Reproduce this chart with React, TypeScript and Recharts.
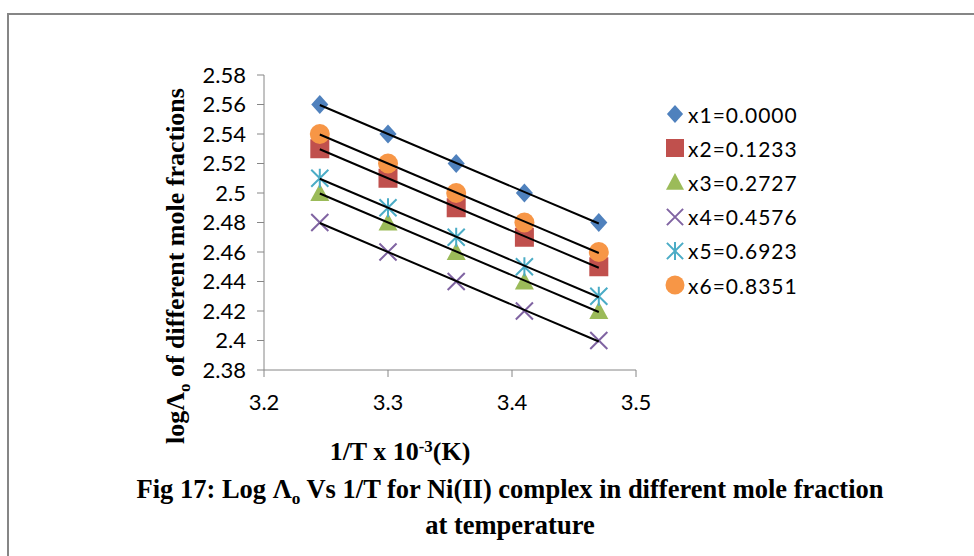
import { ScatterChart, Scatter, XAxis, YAxis } from 'recharts'

// 1/T x 10^-3 for the five temperatures
const invTemp = [3.245, 3.3, 3.355, 3.41, 3.47]

// log of limiting molar conductance per mole fraction
const x1Vals = [2.56, 2.54, 2.52, 2.5, 2.48]
const x2Vals = [2.53, 2.51, 2.49, 2.47, 2.45]
const x3Vals = [2.5, 2.48, 2.46, 2.44, 2.42]
const x4Vals = [2.48, 2.46, 2.44, 2.42, 2.4]
const x5Vals = [2.51, 2.49, 2.47, 2.45, 2.43]
const x6Vals = [2.54, 2.52, 2.5, 2.48, 2.46]

const seriesNames = ['x1=0.0000', 'x2=0.1233', 'x3=0.2727', 'x4=0.4576', 'x5=0.6923', 'x6=0.8351']

const xTicks = [3.2, 3.3, 3.4, 3.5]
const yTicks = [2.38, 2.4, 2.42, 2.44, 2.46, 2.48, 2.5, 2.52, 2.54, 2.56, 2.58]

type Kind = 'diamond' | 'square' | 'triangle' | 'cross' | 'star' | 'circle'

const SERIES: { name: string; values: number[]; kind: Kind; color: string }[] = [
  { name: seriesNames[0], values: x1Vals, kind: 'diamond', color: '#4F81BD' },
  { name: seriesNames[1], values: x2Vals, kind: 'square', color: '#C0504D' },
  { name: seriesNames[2], values: x3Vals, kind: 'triangle', color: '#9BBB59' },
  { name: seriesNames[3], values: x4Vals, kind: 'cross', color: '#8064A2' },
  { name: seriesNames[4], values: x5Vals, kind: 'star', color: '#4BACC6' },
  { name: seriesNames[5], values: x6Vals, kind: 'circle', color: '#F79646' },
]

const toPoints = (values: number[]) => values.map((y, i) => ({ x: invTemp[i], y }))

const AXIS = '#868686'
const TICK_FONT = { fill: '#000', fontSize: 22, fontFamily: 'Lato, sans-serif' }
const SERIF = '"Liberation Serif", "Times New Roman", serif'

interface MarkerProps {
  kind: Kind
  cx: number
  cy: number
  color: string
  r?: number
}

const Marker = ({ kind, cx, cy, color, r = 9.5 }: MarkerProps) => {
  switch (kind) {
    case 'diamond':
      return <polygon points={`${cx},${cy - r} ${cx + r * 0.9},${cy} ${cx},${cy + r} ${cx - r * 0.9},${cy}`} fill={color} />
    case 'square':
      return <rect x={cx - r} y={cy - r} width={r * 2} height={r * 2} fill={color} />
    case 'triangle':
      return <polygon points={`${cx},${cy - r} ${cx + r},${cy + r * 0.85} ${cx - r},${cy + r * 0.85}`} fill={color} />
    case 'cross': {
      const d = r * 0.9
      return (
        <path d={`M${cx - d},${cy - d}L${cx + d},${cy + d}M${cx + d},${cy - d}L${cx - d},${cy + d}`}
          stroke={color} strokeWidth={2} fill="none" />
      )
    }
    case 'star': {
      const d = r * 0.9
      return (
        <path d={`M${cx - d},${cy - d}L${cx + d},${cy + d}M${cx + d},${cy - d}L${cx - d},${cy + d}M${cx},${cy - r}L${cx},${cy + r}`}
          stroke={color} strokeWidth={2} fill="none" />
      )
    }
    default:
      return <circle cx={cx} cy={cy} r={r + 0.5} fill={color} />
  }
}

const fmtY = (v: number) => String(+v.toFixed(2))

const sub = { fontSize: '0.65em', position: 'relative' as const, top: '0.35em' }
const sup = { fontSize: '0.65em', position: 'relative' as const, top: '-0.45em' }

const App = () => (
  <div style={{ position: 'absolute', left: 0, top: 0, width: 974, height: 556, background: '#fff', overflow: 'hidden' }}>
    <div style={{ position: 'absolute', left: 7, top: 13, right: -10, bottom: -10, borderLeft: `2px solid ${AXIS}`, borderTop: `2px solid ${AXIS}` }} />

    <div style={{ position: 'absolute', left: 0, top: 0 }}>
      <ScatterChart width={974} height={556} margin={{ top: 75, right: 338, bottom: 146, left: 174 }}>
        <XAxis type="number" dataKey="x" domain={[3.2, 3.5]} ticks={xTicks} tickSize={7} tickMargin={17}
          stroke={AXIS} tick={TICK_FONT} height={40} allowDataOverflow />
        <YAxis type="number" dataKey="y" domain={[2.38, 2.58]} ticks={yTicks} tickSize={7} tickMargin={11}
          stroke={AXIS} tick={TICK_FONT} width={90} tickFormatter={fmtY} interval={0} allowDataOverflow />
        {SERIES.map((s) => (
          <Scatter key={s.name} name={s.name} data={toPoints(s.values)} isAnimationActive={false}
            shape={(p: any) => <Marker kind={s.kind} cx={p.cx} cy={p.cy} color={s.color} />} />
        ))}
        {/* linear trendlines drawn over all markers */}
        {SERIES.map((s) => (
          <Scatter key={`${s.name}-fit`} data={toPoints(s.values)} isAnimationActive={false}
            line={{ stroke: '#000', strokeWidth: 2 }} lineType="fitting" shape={() => <g />} legendType="none" />
        ))}
      </ScatterChart>
    </div>

    {/* legend */}
    <div style={{ position: 'absolute', left: 664, top: 97 }}>
      {SERIES.map((s) => (
        <div key={s.name} style={{ display: 'flex', alignItems: 'center', height: 34.2 }}>
          <svg width={22} height={22} style={{ marginRight: 2 }}>
            <Marker kind={s.kind} cx={11} cy={11} color={s.color} r={9} />
          </svg>
          <span style={{ fontFamily: 'Lato, sans-serif', fontSize: 21, letterSpacing: 1, color: '#000' }}>{s.name}</span>
        </div>
      ))}
    </div>

    {/* y axis title */}
    <div style={{ position: 'absolute', left: -34, top: 251, width: 420, height: 30, lineHeight: '30px', textAlign: 'center',
      transform: 'rotate(-90deg)', fontFamily: SERIF, fontWeight: 'bold', fontSize: 26, whiteSpace: 'nowrap' }}>
      logΛ<span style={sub}>o</span> of different mole fractions
    </div>

    {/* x axis title */}
    <div style={{ position: 'absolute', left: 250, top: 437, width: 300, lineHeight: '30px', textAlign: 'center',
      fontFamily: SERIF, fontWeight: 'bold', fontSize: 26 }}>
      1/T x 10<span style={sup}>-3</span>(K)
    </div>

    {/* caption */}
    <div style={{ position: 'absolute', left: 60, top: 473, width: 900, lineHeight: '32px', textAlign: 'center',
      fontFamily: SERIF, fontWeight: 'bold', fontSize: 26.5, whiteSpace: 'nowrap' }}>
      Fig 17: Log Λ<span style={sub}>o</span> Vs 1/T for Ni(II) complex in different mole fraction
      <br />
      at temperature
    </div>
  </div>
)

export default App
